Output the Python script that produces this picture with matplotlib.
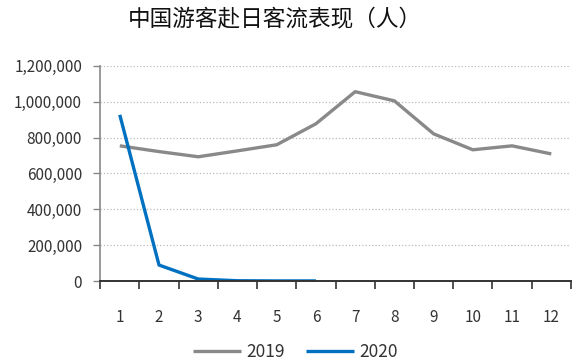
import numpy as np
import matplotlib.pyplot as plt
from matplotlib.ticker import FuncFormatter, FixedLocator

plt.rcParams['font.family'] = ['Noto Sans CJK SC', 'DejaVu Sans']

months = ['1', '2', '3', '4', '5', '6', '7', '8', '9', '10', '11', '12']
visitors_2019 = [754000, 722000, 693000, 726000, 760000, 877000, 1056000, 1005000, 821000, 732000, 754000, 709000]
visitors_2020 = [927000, 89000, 11000, 1500, 500, 500]

fig = plt.figure(figsize=(5.79, 3.64), dpi=100)
ax = fig.add_axes([0.173, 0.228, 0.813, 0.591])

x = np.arange(len(months))
ax.plot(x, visitors_2019, color='#898989', lw=2.4, label='2019', solid_capstyle='butt')
ax.plot(x[:len(visitors_2020)], visitors_2020, color='#0070C0', lw=2.4, label='2020', solid_capstyle='butt')

ax.set_xlim(-0.5, 11.5)
ax.set_ylim(0, 1200000)
ax.set_yticks(np.arange(0, 1200001, 200000))
ax.yaxis.set_major_formatter(FuncFormatter(lambda v, p: f'{int(v):,}'))
ax.set_xticks(x)
ax.set_xticklabels(months)
ax.xaxis.set_minor_locator(FixedLocator(np.arange(-0.5, 12, 1)))
ax.tick_params(axis='x', which='major', length=0, pad=20, labelsize=11, colors='#333333')
ax.tick_params(axis='x', which='minor', length=6, width=1.2, direction='out', color='#333333')
ax.tick_params(axis='y', length=5, width=1, color='#888888', labelsize=11, labelcolor='#333333', pad=8)

ax.grid(axis='y', linestyle=':', color='#bbbbbb', lw=0.9)
ax.set_axisbelow(True)
for s in ['top', 'right']:
    ax.spines[s].set_visible(False)
ax.spines['left'].set_color('#888888')
ax.spines['left'].set_linewidth(1.2)
ax.spines['bottom'].set_color('#333333')
ax.spines['bottom'].set_linewidth(1.4)

fig.suptitle('中国游客赴日客流表现（人）', x=0.475, y=0.945, va='center', fontsize=16.3,
             fontweight='medium', color='#111111')
fig.legend(loc='center', bbox_to_anchor=(0.51, 0.033), ncol=2, frameon=False,
           fontsize=12.5, handlelength=2.8, columnspacing=1.2, handletextpad=0.3,
           labelcolor='#333333')

fig.savefig('out.png', dpi=100)
